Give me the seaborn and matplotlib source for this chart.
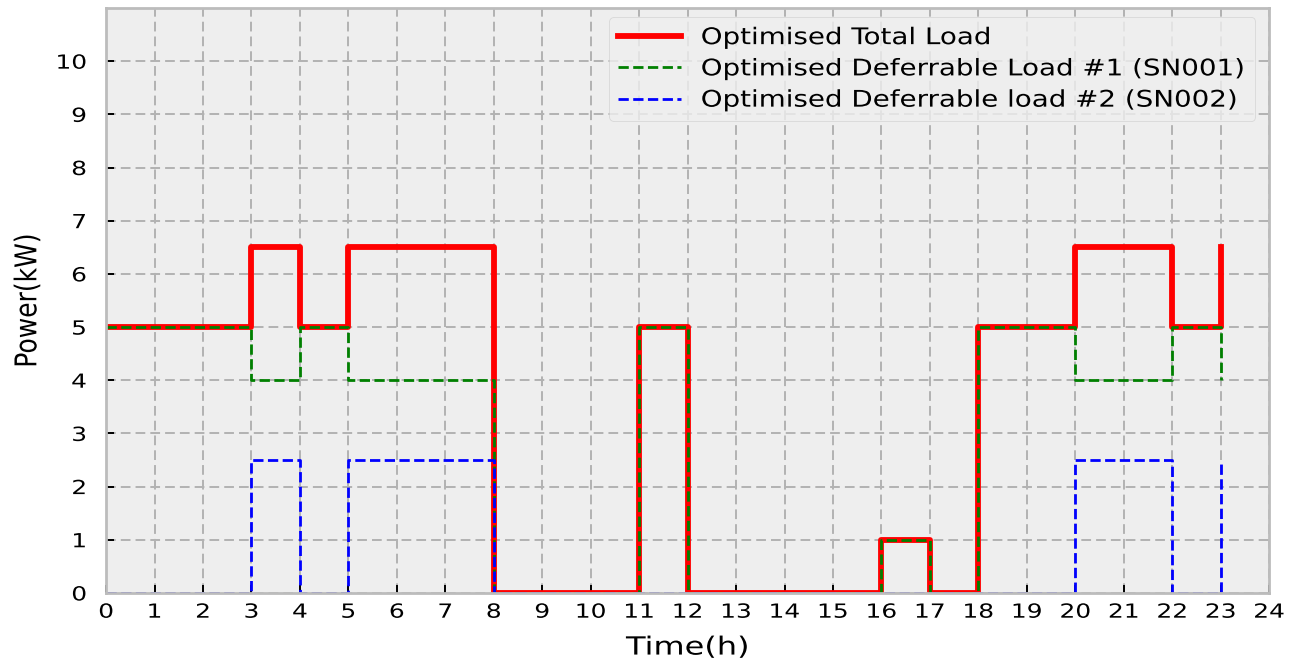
import matplotlib
matplotlib.use("Agg")
import matplotlib.pyplot as plt
import seaborn as sns
import pandas as pd
from matplotlib.patheffects import AbstractPathEffect
from matplotlib.transforms import Affine2D

hours = list(range(24))
total_load = [5, 5, 5, 6.5, 5, 6.5, 6.5, 6.5, 0, 0, 0, 5, 0, 0, 0, 0, 1, 0, 5, 5, 6.5, 6.5, 5, 6.5]
def_load_1 = [5, 5, 5, 4, 5, 4, 4, 4, 0, 0, 0, 5, 0, 0, 0, 0, 1, 0, 5, 5, 4, 4, 5, 4]
def_load_2 = [0, 0, 0, 2.5, 0, 2.5, 2.5, 2.5, 0, 0, 0, 0, 0, 0, 0, 0, 0, 0, 0, 0, 2.5, 2.5, 0, 2.5]
labels = ["Optimised Total Load",
          "Optimised Deferrable Load #1 (SN001)",
          "Optimised Deferrable load #2 (SN002)"]
x_ticks = list(range(0, 25))
y_ticks = list(range(0, 11))


class Stretch(AbstractPathEffect):
    """Stretch glyph outlines (the source image is horizontally stretched)."""
    def __init__(self, sx=1.0, sy=1.0, anchor="center"):
        super().__init__()
        self.sx, self.sy, self.anchor = sx, sy, anchor

    def draw_path(self, renderer, gc, tpath, affine, rgbFace=None):
        ext = tpath.get_extents()
        if self.anchor == "left":
            cx = ext.x0
        elif self.anchor == "right":
            cx = ext.x1
        else:
            cx = (ext.x0 + ext.x1) / 2
        cy = (ext.y0 + ext.y1) / 2
        t = Affine2D().translate(-cx, -cy).scale(self.sx, self.sy).translate(cx, cy)
        renderer.draw_path(gc, tpath, t + affine, rgbFace)


df = pd.DataFrame({"hour": hours, "total": total_load, "d1": def_load_1, "d2": def_load_2})

plt.style.use("bmh")
plt.rcParams["font.family"] = ["DejaVu Sans"]

fig = plt.figure(figsize=(13.03, 6.64), dpi=100)
ax = fig.add_axes([0.0814, 0.107, 0.8926, 0.881])
ax.set_facecolor("#eeeeee")

sns.lineplot(data=df, x="hour", y="total", ax=ax, color="red", lw=4.2,
             drawstyle="steps-post", label=labels[0])
sns.lineplot(data=df, x="hour", y="d1", ax=ax, color="green", lw=2.0,
             linestyle="--", drawstyle="steps-post", label=labels[1])
sns.lineplot(data=df, x="hour", y="d2", ax=ax, color="blue", lw=2.0,
             linestyle="--", drawstyle="steps-post", label=labels[2])

ax.set_xlim(0, 24)
ax.set_ylim(0, 11)
ax.set_xticks(x_ticks)
ax.set_yticks(y_ticks)
ax.grid(True, color="#b2b2b2", linestyle="--", linewidth=1.4, dashes=(5, 2.6))
ax.set_axisbelow(True)
for s in ax.spines.values():
    s.set_color("#bcbcbc")
    s.set_linewidth(2)
ax.tick_params(axis="both", direction="in", length=6, width=1.4, color="black",
               labelsize=14, labelcolor="black", top=False, right=False)
ax.tick_params(axis="x", pad=7)
ax.tick_params(axis="y", pad=14)
ax.set_xlabel("Time(h)", fontsize=18, color="black", labelpad=10)
ax.set_ylabel("Power(kW)", fontsize=18, color="black", labelpad=16)

SX = 1.28
for t in ax.get_xticklabels():
    t.set_path_effects([Stretch(sx=SX, anchor="center")])
for t in ax.get_yticklabels():
    t.set_path_effects([Stretch(sx=SX, anchor="right")])
ax.xaxis.label.set_path_effects([Stretch(sx=SX, anchor="center")])
ax.yaxis.label.set_path_effects([Stretch(sy=1.2, anchor="center")])

leg = ax.legend(loc="upper right", mode="expand", borderaxespad=0,
                bbox_to_anchor=(0.4325, 0.5, 0.5555, 0.4846),
                fontsize=16.5, frameon=True, fancybox=True,
                framealpha=0.8, facecolor="#eeeeee", edgecolor="#cccccc",
                handlelength=2.74, handletextpad=0.87, borderpad=0.4,
                labelspacing=0.36)
for t in leg.get_texts():
    t.set_path_effects([Stretch(sx=1.21, anchor="left")])

fig.savefig("out.png", dpi=100)
